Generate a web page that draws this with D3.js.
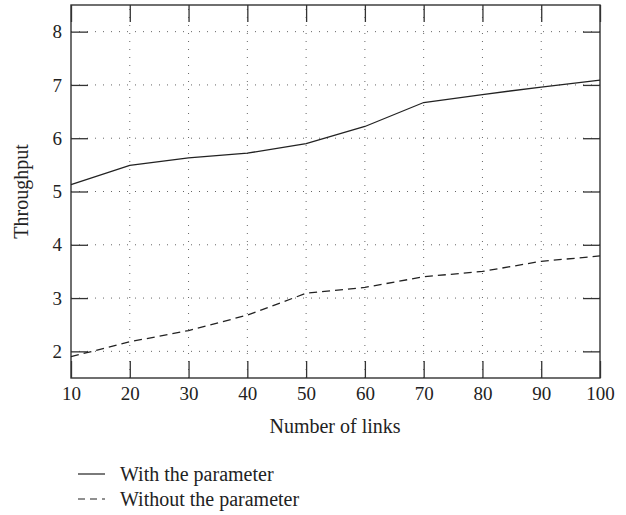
<!DOCTYPE html>
<html>
  <head>
    <meta charset="utf-8">
    <title>Throughput</title>
    <style>
      body { margin: 0; background: #fff; }
      text { font-family: "Liberation Serif", "DejaVu Serif", serif; fill: #222; }
    </style>
  </head>
  <body>
    <script src="https://d3js.org/d3.v7.min.js"></script>
    <svg id="chart" width="626" height="515"></svg>
    <script>
      // values
      const links = [10, 20, 30, 40, 50, 60, 70, 80, 90, 100]
      const withParam = [5.13, 5.49, 5.63, 5.72, 5.90, 6.22, 6.67, 6.82, 6.96, 7.09]
      const withoutParam = [1.90, 2.18, 2.39, 2.68, 3.09, 3.20, 3.40, 3.50, 3.69, 3.79]
      const yTicks = [2, 3, 4, 5, 6, 7, 8]
      const seriesNames = ['With the parameter', 'Without the parameter']

      function draw() {
        const svg = d3.select('#chart')
        const mLeft = 71, mRight = 600, mTop = 5, mBottom = 378

        const x = d3.scaleLinear().domain([10, 100]).range([mLeft, mRight])
        const y = d3.scaleLinear().domain([1.5, 8.5]).range([mBottom, mTop])

        // dotted grid
        const grid = svg.append('g')
          .attr('stroke', '#666')
          .attr('stroke-width', 1)
          .attr('stroke-dasharray', '1,7')
        grid.selectAll('.gx')
          .data(links.slice(1, -1))
          .join('line')
            .attr('x1', d => x(d)).attr('x2', d => x(d))
            .attr('y1', mBottom).attr('y2', mTop)
        grid.selectAll('.gy')
          .data(yTicks)
          .join('line')
            .attr('x1', mLeft).attr('x2', mRight)
            .attr('y1', d => y(d)).attr('y2', d => y(d))

        // axes: ticks pointing inward on all four sides
        const tick = 17
        svg.append('g')
          .attr('transform', `translate(0,${mBottom})`)
          .call(d3.axisBottom(x).tickValues(links).tickSize(-tick).tickPadding(9).tickFormat(d3.format('d')))
        svg.append('g')
          .attr('transform', `translate(0,${mTop})`)
          .call(d3.axisTop(x).tickValues(links).tickSize(-tick).tickFormat(''))
        svg.append('g')
          .attr('transform', `translate(${mLeft},0)`)
          .call(d3.axisLeft(y).tickValues(yTicks).tickSize(-tick).tickPadding(9).tickFormat(d3.format('d')))
        svg.append('g')
          .attr('transform', `translate(${mRight},0)`)
          .call(d3.axisRight(y).tickValues(yTicks).tickSize(-tick).tickFormat(''))

        svg.selectAll('.domain').remove()
        svg.selectAll('.tick line').attr('stroke', '#333').attr('stroke-width', 1.3)
        svg.selectAll('.tick text')
          .style('font-family', '"Liberation Serif", serif')
          .style('font-size', '19px')
          .attr('fill', '#222')

        // frame
        svg.append('rect')
          .attr('x', mLeft).attr('y', mTop)
          .attr('width', mRight - mLeft).attr('height', mBottom - mTop)
          .attr('fill', 'none')
          .attr('stroke', '#333')
          .attr('stroke-width', 1.4)

        const line = d3.line()
          .x((d, i) => x(links[i]))
          .y(d => y(d))

        svg.append('path')
          .datum(withParam)
          .attr('d', line)
          .attr('fill', 'none')
          .attr('stroke', '#222')
          .attr('stroke-width', 1.3)

        svg.append('path')
          .datum(withoutParam)
          .attr('d', line)
          .attr('fill', 'none')
          .attr('stroke', '#222')
          .attr('stroke-width', 1.3)
          .attr('stroke-dasharray', '8,5')

        // axis titles
        svg.append('text')
          .attr('x', 335)
          .attr('y', 433)
          .attr('text-anchor', 'middle')
          .style('font-size', '20px')
          .text('Number of links')

        svg.append('text')
          .attr('transform', `translate(28,${(mTop + mBottom) / 2}) rotate(-90)`)
          .attr('text-anchor', 'middle')
          .style('font-size', '20px')
          .text('Throughput')

        // legend
        const legend = svg.append('g')
        const dashes = [null, '7,5']
        seriesNames.forEach((name, i) => {
          const ly = 474 + i * 25
          legend.append('line')
            .attr('x1', 78).attr('x2', 105)
            .attr('y1', ly).attr('y2', ly)
            .attr('stroke', '#222')
            .attr('stroke-width', 1.2)
            .attr('stroke-dasharray', dashes[i])
          legend.append('text')
            .attr('x', 120)
            .attr('y', ly + 7)
            .style('font-size', '20px')
            .text(name)
        })
      }
      draw()
    </script>
  </body>
</html>
